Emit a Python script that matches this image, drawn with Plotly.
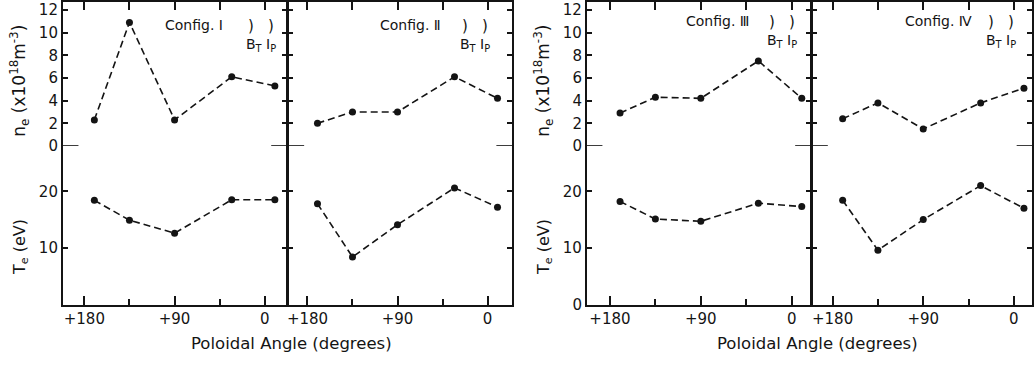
import plotly.graph_objects as go

W, H = 1034, 370

# Probe poloidal positions (degrees) shared by every configuration
angle = [170, 135, 90, 33, -10]

# Electron density n_e (x10^18 m^-3) per configuration
ne_I = [2.3, 10.9, 2.3, 6.1, 5.3]
ne_II = [2.0, 3.0, 3.0, 6.1, 4.2]
ne_III = [2.9, 4.3, 4.2, 7.5, 4.2]
ne_IV = [2.4, 3.8, 1.5, 3.8, 5.1]

# Electron temperature T_e (eV) per configuration
te_I = [18.4, 14.9, 12.6, 18.5, 18.5]
te_II = [17.8, 8.4, 14.1, 20.6, 17.2]
te_III = [18.2, 15.1, 14.7, 17.9, 17.3]
te_IV = [18.4, 9.6, 15.0, 21.0, 17.0]

config_names = ["Ⅰ", "Ⅱ", "Ⅲ", "Ⅳ"]
ne_ticks = [0, 2, 4, 6, 8, 10, 12]
te_ticks_left = [10, 20]
te_ticks_right = [0, 10, 20]
angle_ticks = [180, 90, 0]
angle_ticktext = ["+180", "+90", "0"]
angle_minor = [135, 45]

ne_series = [ne_I, ne_II, ne_III, ne_IV]
te_series = [te_I, te_II, te_III, te_IV]


def px(x):
    return x / W


def py(y):
    return 1 - y / H


def ref(letter, n):
    return letter if n == 1 else f"{letter}{n}"


INK = "#141414"
FONT = "DejaVu Sans"
LW = 1.6

# panel pixel extents and angle ranges (reversed: +180 on the left);
# neighbouring panels are offset by one line width so their frames coincide
panel_x = [(61, 286), (286 + LW, 512), (587, 812), (812 + LW, 1034)]
panel_range = [[201.5, -22], [199, -24.5], [203, -19], [200, -18]]
ne_dom = [py(149), py(1)]
te_dom = [py(312), py(149)]
ne_range = [0, 12.7]
te_range = [0, 28]

fig = go.Figure()
layout = dict(
    width=W, height=H,
    margin=dict(l=0, r=0, t=0, b=0),
    paper_bgcolor="white", plot_bgcolor="rgba(0,0,0,0)",
    showlegend=False,
    font=dict(family=FONT, size=15, color=INK),
)

common_axis = dict(showgrid=False, zeroline=False, linecolor=INK, linewidth=LW,
                   tickcolor=INK, tickwidth=LW, ticks="inside")

shapes = []
for k in range(4):
    i = k + 1
    xs, ys_ne, ys_te, xs_top = ref("x", i), ref("y", i), ref("y", i + 4), ref("x", i + 4)
    left_panel = k in (0, 2)

    # bottom angle axis
    layout[f"xaxis{i}"] = dict(
        common_axis, domain=[px(panel_x[k][0]), px(panel_x[k][1])],
        range=panel_range[k], anchor=ys_te, showline=True, mirror=False,
        tickvals=angle_ticks, ticktext=angle_ticktext, ticklen=9,
        tickfont=dict(size=15),
        minor=dict(tickvals=angle_minor, ticks="inside", ticklen=6,
                   tickcolor=INK, tickwidth=LW),
    )
    # top frame with ticks
    layout[f"xaxis{i+4}"] = dict(
        common_axis, overlaying=xs, anchor=ys_ne, side="top",
        range=panel_range[k], showline=True, showticklabels=False,
        tickvals=[180, 135, 90, 45, 0], ticklen=8,
    )
    # density axis
    layout[f"yaxis{i}"] = dict(
        common_axis, domain=ne_dom, range=ne_range, anchor=xs,
        showline=True, mirror="ticks", tickvals=ne_ticks, ticklen=5,
        showticklabels=left_panel, tickfont=dict(size=15),
    )
    # temperature axis
    layout[f"yaxis{i+4}"] = dict(
        common_axis, domain=te_dom, range=te_range, anchor=xs,
        showline=True, mirror="ticks",
        tickvals=te_ticks_left if k < 2 else te_ticks_right, ticklen=5,
        showticklabels=left_panel, tickfont=dict(size=15),
    )
    # longer marks at n_e = 0 on both panel edges
    for a, b in ((0, 0.07), (0.93, 1.0)):
        shapes.append(dict(type="line", xref=f"{xs} domain", yref=ys_ne,
                           x0=a, x1=b, y0=0, y1=0,
                           line=dict(color=INK, width=LW)))

    for series, yax in ((ne_series[k], ys_ne), (te_series[k], ys_te)):
        fig.add_trace(go.Scatter(
            x=angle, y=series, xaxis=xs, yaxis=yax, mode="lines+markers",
            line=dict(color=INK, width=1.6, dash="7px,4px"),
            marker=dict(color=INK, size=7),
            hoverinfo="skip",
        ))
    # empty trace so the top frame axis is laid out
    fig.add_trace(go.Scatter(x=[None], y=[None], xaxis=xs_top, yaxis=ys_ne,
                             showlegend=False, hoverinfo="skip"))

annotations = []
# axis titles for both figures
for x_center in (18, 544):
    annotations.append(dict(
        text="n<sub>e</sub> (x10<sup>18</sup>m<sup>-3</sup>)", x=px(x_center), y=py(82),
        xref="paper", yref="paper", textangle=-90, showarrow=False,
        xanchor="center", yanchor="middle", font=dict(size=17)))
    annotations.append(dict(
        text="T<sub>e</sub> (eV)", x=px(x_center), y=py(253),
        xref="paper", yref="paper", textangle=-90, showarrow=False,
        xanchor="center", yanchor="middle", font=dict(size=16)))
for x_center in (291, 819):
    annotations.append(dict(
        text="Poloidal Angle (degrees)", x=px(x_center), y=py(352),
        xref="paper", yref="paper", showarrow=False,
        xanchor="center", yanchor="middle", font=dict(size=16.5)))

# configuration labels with field / current direction marks
config_left = [162, 377, 685, 905]
config_top = [25, 25, 21, 21]
for k in range(4):
    x0, y0 = config_left[k], config_top[k]
    annotations.append(dict(
        text=f"Config. {config_names[k]}", x=px(x0), y=py(y0),
        xref="paper", yref="paper", showarrow=False,
        xanchor="left", yanchor="middle", font=dict(size=14)))
    for dx in (88, 108):
        annotations.append(dict(
            text=")", x=px(x0 + dx), y=py(y0 + 1),
            xref="paper", yref="paper", showarrow=False,
            xanchor="center", yanchor="middle", font=dict(size=15)))
    annotations.append(dict(
        text="B<sub>T</sub> I<sub>P</sub>", x=px(x0 + 98), y=py(y0 + 20),
        xref="paper", yref="paper", showarrow=False,
        xanchor="center", yanchor="middle", font=dict(size=14)))

layout["annotations"] = annotations
layout["shapes"] = shapes
fig.update_layout(**layout)
fig.write_html("out.html")
